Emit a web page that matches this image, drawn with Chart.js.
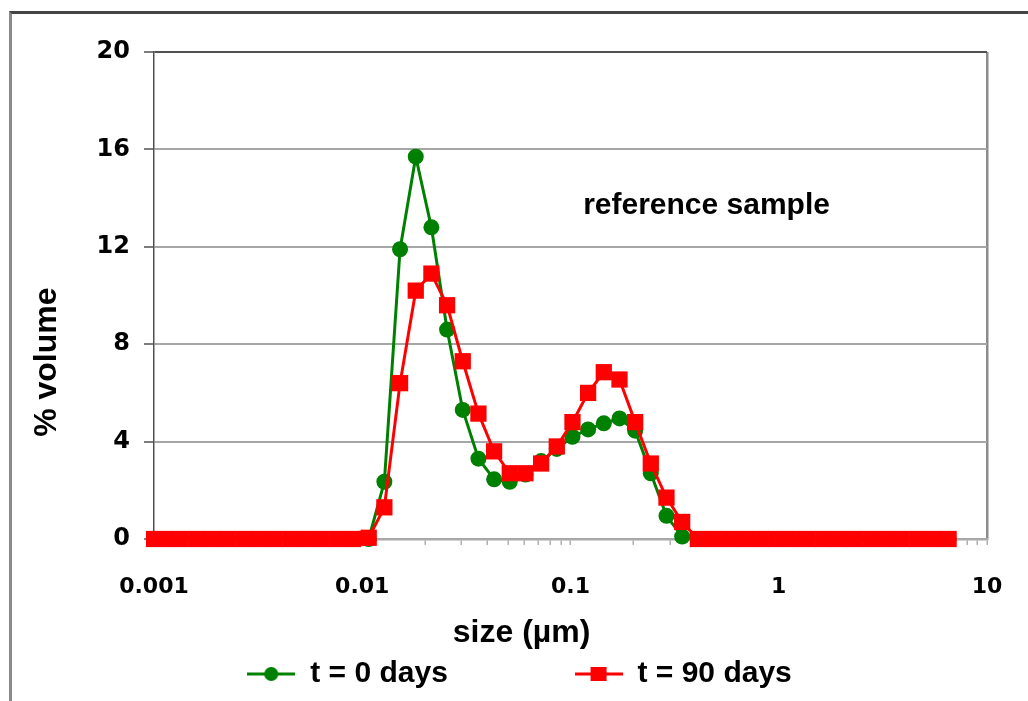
<!DOCTYPE html>
<html>
<head>
<meta charset="utf-8">
<title>reference sample</title>
<script src="https://cdn.jsdelivr.net/npm/chart.js@4/dist/chart.umd.min.js"></script>
<style>
  html, body { margin: 0; padding: 0; background: #fff; overflow: hidden; }
  .frame {
    position: absolute; left: 9px; top: 11px; width: 2000px; height: 2000px;
    border-top: 3px solid #444; border-left: 3px solid #8a8a8a;
  }
  #sizeChart { position: absolute; left: 0; top: 0; }
</style>
</head>
<body>
<div class="frame"></div>
<canvas id="sizeChart" width="1028" height="701"></canvas>
<script>
// particle size channels (µm)
const sizes = [
  0.000949, 0.001129, 0.001343, 0.001597, 0.001899, 0.002258, 0.002685, 0.003193,
  0.003798, 0.004516, 0.005371, 0.006387, 0.007595, 0.009032, 0.01074, 0.01277,
  0.01519, 0.01807, 0.02148, 0.02555, 0.03038, 0.03613, 0.04297, 0.05109,
  0.06076, 0.07226, 0.08593, 0.1022, 0.1215, 0.1445, 0.1719, 0.2044,
  0.2430, 0.2890, 0.3437, 0.4088, 0.4861, 0.5781, 0.6874, 0.8175,
  0.9722, 1.156, 1.375, 1.635, 1.944, 2.312, 2.750, 3.270,
  3.889, 4.625, 5.500, 6.540,
];

// % volume, t = 0 days
const volDay0 = [
  0, 0, 0, 0, 0, 0, 0, 0,
  0, 0, 0, 0, 0, 0, 0, 2.35,
  11.9, 15.7, 12.8, 8.6, 5.3, 3.3, 2.45, 2.35,
  2.65, 3.2, 3.7, 4.2, 4.5, 4.75, 4.95, 4.45,
  2.7, 0.95, 0.1, 0, 0, 0, 0, 0,
  0, 0, 0, 0, 0, 0, 0, 0,
  0, 0, 0, 0,
];

// % volume, t = 90 days
const volDay90 = [
  0, 0, 0, 0, 0, 0, 0, 0,
  0, 0, 0, 0, 0, 0, 0.05, 1.3,
  6.4, 10.2, 10.9, 9.6, 7.3, 5.15, 3.6, 2.7,
  2.7, 3.1, 3.8, 4.8, 6.0, 6.85, 6.55, 4.8,
  3.1, 1.7, 0.7, 0, 0, 0, 0, 0,
  0, 0, 0, 0, 0, 0, 0, 0,
  0, 0, 0, 0,
];

const seriesLabels = ["t = 0 days", "t = 90 days"];
const majorTicks = [0.001, 0.01, 0.1, 1, 10];
const yTicks = [0, 4, 8, 12, 16, 20];
const noteText = "reference sample";
const noteAt = [0.45, 13.7];

const FONT = '"Liberation Sans", Arial, sans-serif';
const TICK_FONT = '"DejaVu Sans", Verdana, sans-serif';
const pad = (n) => "\u00a0".repeat(n);

const toPoints = (vals) => sizes.map((s, i) => ({ x: s, y: vals[i] }));

// legend icons: line with marker, like the spreadsheet legend
const makeIcon = function (color, shape) {
  const c = document.createElement("canvas");
  c.width = 48;
  c.height = 20;
  const g = c.getContext("2d");
  g.strokeStyle = color;
  g.fillStyle = color;
  g.lineWidth = 3;
  g.beginPath();
  g.moveTo(0, 10);
  g.lineTo(48, 10);
  g.stroke();
  if (shape === "circle") {
    g.beginPath();
    g.arc(24, 10, 7, 0, Math.PI * 2);
    g.fill();
  } else {
    g.fillRect(16, 3, 16, 14);
  }
  return c;
};
const legendIcons = [makeIcon("#008000", "circle"), makeIcon("#ff0000", "rect")];

const notePlugin = {
  id: "sampleNote",
  afterDatasetsDraw(chart) {
    const { ctx, scales } = chart;
    ctx.save();
    ctx.font = "bold 30px " + FONT;
    ctx.fillStyle = "#000";
    ctx.textAlign = "center";
    ctx.textBaseline = "middle";
    ctx.fillText(noteText, scales.x.getPixelForValue(noteAt[0]), scales.y.getPixelForValue(noteAt[1]));
    ctx.restore();
  },
};

const configSizeChart = {
  type: "line",
  data: {
    datasets: [
      {
        label: seriesLabels[0],
        data: toPoints(volDay0),
        borderColor: "#008000",
        backgroundColor: "#008000",
        borderWidth: 3,
        pointStyle: "circle",
        pointRadius: 8,
        pointBorderWidth: 0,
        tension: 0,
        order: 1,
        clip: { left: 8, top: false, right: false, bottom: false },
      },
      {
        label: seriesLabels[1],
        data: toPoints(volDay90),
        borderColor: "#ff0000",
        backgroundColor: "#ff0000",
        borderWidth: 3,
        pointStyle: "rect",
        pointRadius: 11.5,
        pointBorderWidth: 0,
        tension: 0,
        order: 0,
        clip: { left: 8, top: false, right: false, bottom: false },
      },
    ],
  },
  options: {
    responsive: false,
    animation: false,
    devicePixelRatio: 1,
    layout: {
      padding: { left: 52, right: 41, top: 52, bottom: 2 },
    },
    scales: {
      x: {
        type: "logarithmic",
        min: 0.001,
        max: 10,
        afterBuildTicks: (scale) => {
          const ticks = [];
          majorTicks.forEach((p, i) => {
            ticks.push({ value: p });
            if (i < majorTicks.length - 1) {
              for (let m = 2; m <= 9; m++) {
                ticks.push({ value: Number((m * p).toPrecision(3)) });
              }
            }
          });
          scale.ticks = ticks;
        },
        afterFit: (scale) => {
          scale.height = 110;
          scale.paddingLeft = 0;
          scale.paddingRight = 0;
        },
        ticks: {
          autoSkip: false,
          maxRotation: 0,
          minRotation: 0,
          padding: 29,
          color: "#000",
          font: { family: TICK_FONT, size: 22, weight: "bold" },
          callback: (value) => (majorTicks.includes(value) ? String(value) : ""),
        },
        grid: {
          drawOnChartArea: true,
          color: (ctx) => (ctx.tick && ctx.tick.value === 10 ? "#8c8c8c" : "rgba(0,0,0,0)"),
          lineWidth: 2.5,
          tickColor: "#b0b0b0",
          tickLength: 6,
          tickWidth: 1.5,
        },
        border: { display: true, color: "#a8a8a8", width: 2.5 },
        title: {
          display: true,
          text: "size (µm)" + pad(11),
          color: "#000",
          padding: { top: 0, bottom: -3 },
          font: { family: FONT, size: 32, weight: "bold" },
        },
      },
      y: {
        min: 0,
        max: 20,
        afterBuildTicks: (scale) => {
          scale.ticks = yTicks.map((v) => ({ value: v }));
        },
        afterFit: (scale) => {
          scale.width = 102;
        },
        ticks: {
          padding: 14,
          color: "#000",
          font: { family: TICK_FONT, size: 24, weight: "bold" },
        },
        grid: {
          color: (ctx) => (ctx.tick && ctx.tick.value === 20 ? "#505050" : "#a6a6a6"),
          lineWidth: 2,
          tickColor: "#505050",
          tickLength: 10,
          tickWidth: 1.5,
        },
        border: { display: true, color: "#505050", width: 1.5 },
        title: {
          display: true,
          text: "% volume" + pad(15),
          color: "#000",
          padding: { top: -24, bottom: 0 },
          font: { family: FONT, size: 32, weight: "bold" },
        },
      },
    },
    plugins: {
      tooltip: { enabled: false },
      legend: {
        position: "bottom",
        align: "center",
        labels: {
          usePointStyle: true,
          pointStyleWidth: 48,
          padding: 10,
          color: "#000",
          font: { family: FONT, size: 30, weight: "bold" },
          generateLabels: (chart) =>
            chart.data.datasets.map((ds, i) => ({
              text: i === 0 ? ds.label + pad(14) : ds.label,
              fillStyle: ds.borderColor,
              strokeStyle: ds.borderColor,
              lineWidth: 0,
              pointStyle: legendIcons[i],
              hidden: false,
              datasetIndex: i,
              fontColor: "#000",
            })),
        },
      },
    },
  },
  plugins: [notePlugin],
};

const sizeChart = new Chart(document.getElementById("sizeChart"), configSizeChart);
</script>
</body>
</html>
